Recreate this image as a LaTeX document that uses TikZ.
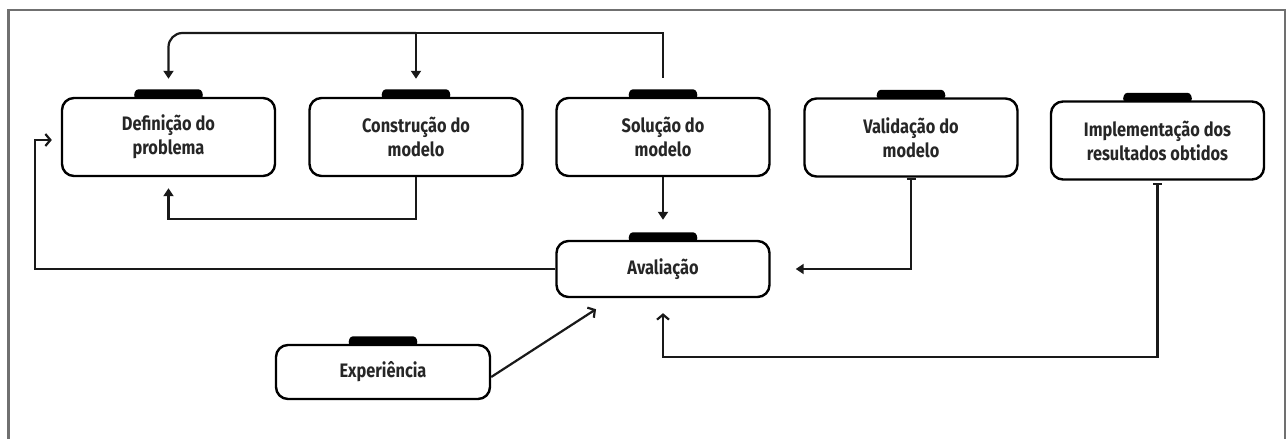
\documentclass[tikz,border=0pt]{standalone}
\usepackage{fontspec}
\setmainfont{Fira Sans}[UprightFont={* Bold},FakeStretch=0.84]
\usetikzlibrary{arrows.meta}
\definecolor{framegray}{HTML}{707070}
\definecolor{txt}{HTML}{262626}
\newcommand{\boxtab}[1]{%
  \fill[black, rounded corners=3pt] ([xshift=-35pt,yshift=-1pt]#1.north) -- ([xshift=-33pt,yshift=7.5pt]#1.north) -- ([xshift=33pt,yshift=7.5pt]#1.north) -- ([xshift=35pt,yshift=-1pt]#1.north) -- cycle;}
\begin{document}
\begin{tikzpicture}[x=1pt,y=-1pt,
  box/.style={draw=black, line width=2.4pt, rounded corners=12pt, minimum width=213pt, minimum height=78pt, align=center, text=txt, font=\fontsize{19.5}{24}\selectfont, inner sep=0pt},
  conn/.style={line width=2.2pt, draw=black!90},
  fa/.style={-{Triangle[width=10pt,length=8pt]}},
  oa/.style={-{Straight Barb[width=12pt,length=5pt]}},
]
\useasboundingbox (0,0) rectangle (1288,439);
\draw[framegray, line width=2.5pt] (8.5,445) -- (8.5,10) -- (1285,10) -- (1285,445);

\node[box] (def) at (168.5,137) {Definição do\\problema};
\node[box] (con) at (416,137) {Construção do\\modelo};
\node[box] (sol) at (663,137) {Solução do\\modelo};
\node[box] (val) at (911,137.5) {Validação do\\modelo};
\node[box] (imp) at (1157.5,140.5) {Implementação dos\\resultados obtidos};
\node[box, minimum height=56pt] (ava) at (663,269) {Avaliação};
\node[box, minimum height=54pt, minimum width=214pt] (exp) at (383,372) {Experiência};

\boxtab{def}\boxtab{con}\boxtab{sol}\boxtab{val}\boxtab{imp}\boxtab{ava}\boxtab{exp}

\coordinate (top) at (0,33);
\coordinate (ly) at (35,140);
\coordinate (by) at (0,355);

\draw[conn] ([yshift=19pt]sol.north) -- (sol.north |- top) -- (con.north |- top);
\draw[conn, fa, rounded corners=14pt] (con.north |- top) -- (def.north |- top) -- ([yshift=18pt]def.north);
\draw[conn, fa] (con.north |- top) -- ([yshift=18pt]con.north);
\draw[conn, fa] (con.south) -- ++(0,42) -| ([yshift=-11pt]def.south);
\draw[conn, fa] (sol.south) -- ([yshift=20pt]ava.north);
\draw[conn, oa] (ava.west) -| (ly) -- ([xshift=-9pt]def.west |- ly);
\draw[conn, {Bar[width=9pt]}-{Triangle[width=10pt,length=8pt]}] (val.south) |- ([xshift=25pt]ava.east);
\draw[conn, {Bar[width=9pt]}-{Straight Barb[width=12pt,length=5pt]}] ([yshift=-2pt]imp.south) -- ([yshift=-2pt]imp.south |- by) -| ([yshift=-15pt]ava.south);
\draw[conn, oa] ([yshift=-5pt]exp.east) -- ([xshift=-67pt,yshift=-11pt]ava.south);
\end{tikzpicture}
\end{document}
